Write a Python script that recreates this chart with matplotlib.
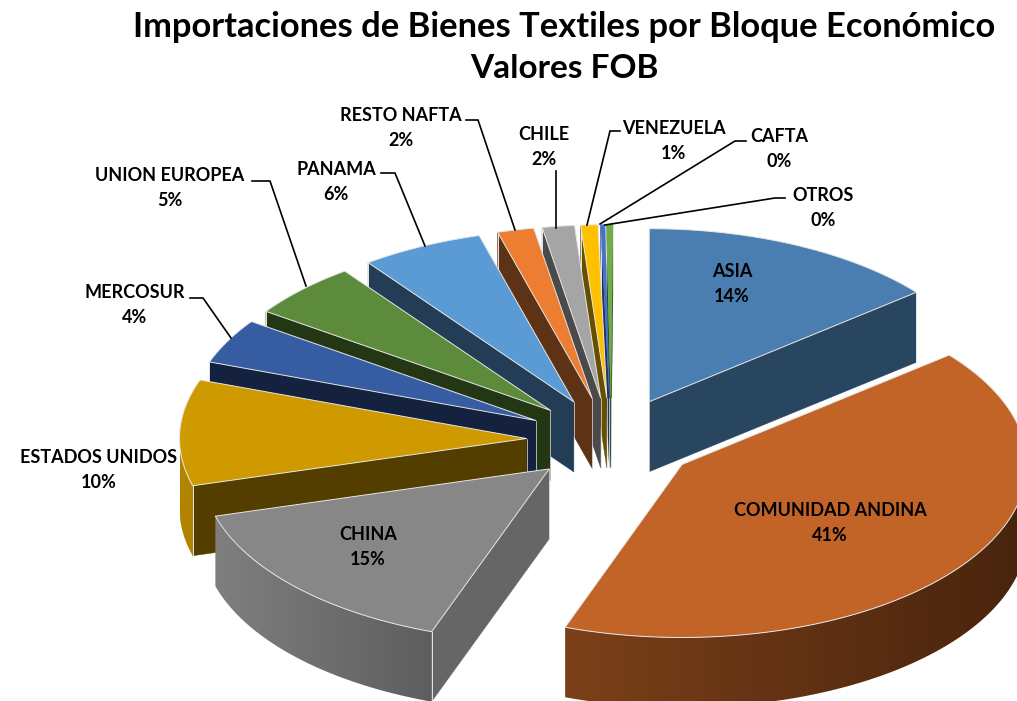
import numpy as np
import matplotlib
matplotlib.use("Agg")
import matplotlib.pyplot as plt
from matplotlib.patches import Polygon
from matplotlib.colors import LinearSegmentedColormap

# values, clockwise from 12 o'clock
blocks = ["ASIA", "COMUNIDAD ANDINA", "CHINA", "ESTADOS UNIDOS", "MERCOSUR", "UNION EUROPEA",
          "PANAMA", "RESTO NAFTA", "CHILE", "VENEZUELA", "CAFTA", "OTROS"]
shares = [14.1, 41.4, 15.1, 9.9, 4.2, 5.2, 5.7, 1.7, 1.5, 0.8, 0.2, 0.3]

top_colors = ["#4A7EB0", "#C26427", "#878787", "#CF9900", "#365CA2", "#5C8C3B",
              "#5B9BD5", "#ED7D31", "#A5A5A5", "#FFC000", "#4472C4", "#70AD47"]
side_colors = ["#294660", "#4B260E", "#666666", "#533E00", "#15223F", "#243715",
               "#223D55", "#5E3214", "#4A4A4A", "#665000", "#1F3560", "#30491F"]
# outer rim goes from first colour (left) to second colour (right)
rim_colors = [("#294660", "#294660"), ("#7B4019", "#48240D"), ("#7F7F7F", "#5E5E5E"),
              ("#B28400", "#B28400"), ("#15223F", "#15223F"), ("#243715", "#243715"),
              ("#223D55", "#223D55"), ("#5E3214", "#5E3214"), ("#4A4A4A", "#4A4A4A"),
              ("#665000", "#665000"), ("#1F3560", "#1F3560"), ("#30491F", "#30491F")]

# back to front
draw_order = [11, 10, 9, 8, 7, 6, 5, 4, 3, 2, 0, 1]

# label centres in pixels, and leader lines (None = label on the slice)
label_xy = [(732, 284), (830, 523), (368, 547), (99, 470), (135, 305), (170, 188),
            (336, 182), (401, 128), (544, 147), (674, 141), (779, 149), (823, 208)]
leaders = [None, None, None, None,
           [(190, 298), (203, 298), (231, 338)],
           [(252, 181), (270, 181), (306, 286)],
           [(381, 173), (395, 173), (425, 246)],
           [(466, 120), (478, 120), (515, 230)],
           [(556, 171), (556, 228)],
           [(620, 131), (610, 131), (587, 225)],
           [(746, 141), (735, 141), (600, 224)],
           [(785, 198), (775, 198), (605, 225)]]

title_lines = ["Importaciones de Bienes Textiles por Bloque Económico", "Valores FOB"]

# pie geometry in pixels
cx, cy = 613, 440
rx, ry = 345, 173
rx_left = 347      # left half looks a bit wider in the reference
shift_left = 2
depth = 70
explode = 0.245
edge_col = "#E6E6E6"

plt.rcParams['font.family'] = ['Lato', 'DejaVu Sans']
fig = plt.figure(figsize=(10.17, 7.01), dpi=100)
ax = fig.add_axes([0, 0, 1, 1])
ax.set_axis_off()

z = 1


def next_z():
    global z
    z += 1
    return z


def draw_slice(i, start, end):
    mid = np.radians((start + end) / 2)
    rr = rx_left if np.cos(mid) < 0 else rx
    ax0 = cx + explode * rx * np.cos(mid)
    ay0 = cy - explode * ry * np.sin(mid)
    if np.cos(mid) < 0:
        ax0 -= shift_left
    ts = np.radians(np.linspace(start, end, max(int(start - end) * 2, 4)))
    xs = ax0 + rr * np.cos(ts)
    ys = ay0 - ry * np.sin(ts)

    # radial walls, only those that face the viewer
    m = np.array([rr * np.cos(mid), -ry * np.sin(mid)])
    for a in (start, end):
        ra = np.radians(a)
        d = np.array([rr * np.cos(ra), -ry * np.sin(ra)])
        side_in = d[0] * m[1] - d[1] * m[0]
        side_down = d[0]
        if side_in * side_down < 0:
            ex, ey = ax0 + d[0], ay0 + d[1]
            ax.add_patch(Polygon([(ax0, ay0), (ex, ey), (ex, ey + depth), (ax0, ay0 + depth)],
                                 fc=side_colors[i], ec=side_colors[i], lw=0.3, zorder=next_z()))
            ax.plot([ex, ex], [ey, ey + depth], color=edge_col, lw=0.7, zorder=next_z())
            ax.plot([ax0, ax0], [ay0, ay0 + depth], color=edge_col, lw=0.5, zorder=next_z())

    # front rim: gradient image clipped to the rim shape
    front = np.sin(ts) < 0
    if front.sum() > 1:
        fx, fy = xs[front], ys[front]
        rim = Polygon(list(zip(fx, fy)) + list(zip(fx[::-1], fy[::-1] + depth)), closed=True,
                      fc="none", ec="none", transform=ax.transData)
        ax.add_patch(rim)
        cmap = LinearSegmentedColormap.from_list("rim", list(rim_colors[i]))
        im = ax.imshow(np.linspace(0, 1, 256).reshape(1, -1), cmap=cmap, aspect="auto",
                       extent=(fx.min(), fx.max(), fy.max() + depth, fy.min()), zorder=next_z())
        im.set_clip_path(rim)

    # top face
    pts = [(ax0, ay0)] + list(zip(xs, ys))
    thin = shares[i] < 0.5
    ax.add_patch(Polygon(pts, closed=True, fc=top_colors[i], ec=top_colors[i] if thin else edge_col,
                         lw=0.3 if thin else 0.7, joinstyle="round", zorder=next_z()))


angles = 90 - np.concatenate([[0], np.cumsum(shares)]) * 3.6
for i in draw_order:
    draw_slice(i, angles[i], angles[i + 1])

ax.set_xlim(0, 1017)
ax.set_ylim(701, 0)

for path in leaders:
    if path is not None:
        ax.plot([p[0] for p in path], [p[1] for p in path], color="black", lw=1.2,
                solid_joinstyle="miter", zorder=next_z())

for name, share, (lx, ly) in zip(blocks, shares, label_xy):
    ax.text(lx, ly, f"{name}\n{share:.0f}%", ha="center", va="center", fontsize=13,
            fontweight="bold", color="black", linespacing=1.55, zorder=next_z())

ax.text(564, 27, title_lines[0], ha="center", va="center", fontsize=24.8, fontweight="bold", color="black")
ax.text(564, 69, title_lines[1], ha="center", va="center", fontsize=24, fontweight="bold", color="black")

fig.savefig("out.png", dpi=100)
